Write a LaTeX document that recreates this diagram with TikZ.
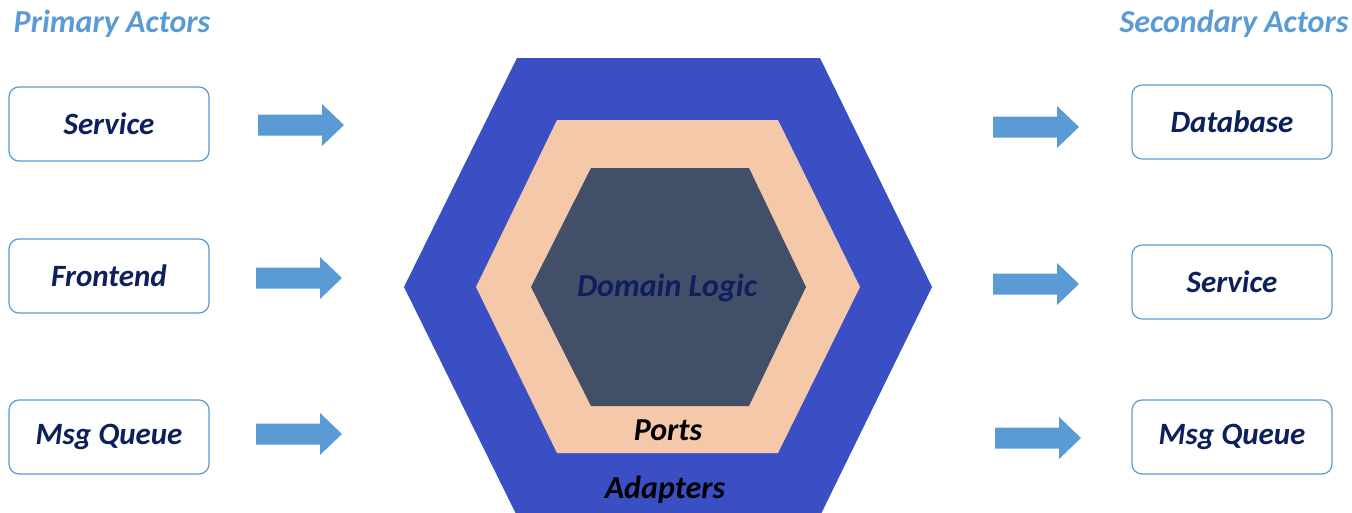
\documentclass[tikz,border=0pt]{standalone}
\usepackage{fontspec}
\setmainfont{Carlito}
\definecolor{outerblue}{HTML}{3A4FC4}
\definecolor{peach}{HTML}{F5C8AA}
\definecolor{slate}{HTML}{415068}
\definecolor{navy}{HTML}{0D1F5C}
\definecolor{lightblue}{HTML}{5B9BD5}
\begin{document}
\begin{tikzpicture}[x=1pt,y=-1pt,
  actor/.style={draw=lightblue,line width=1.2pt,rounded corners=10pt,fill=white,
    minimum width=200pt,minimum height=74pt,font=\fontsize{31}{34}\selectfont\bfseries\itshape,text=navy},
  title/.style={font=\fontsize{32}{35}\selectfont\bfseries\itshape,text=lightblue,anchor=center},
  lbl/.style={font=\fontsize{32}{35}\selectfont\bfseries\itshape}]
\useasboundingbox (0,0) rectangle (1352,512);
% hexagons
\fill[outerblue] (404,287) -- (517,58) -- (820,58) -- (932,287) -- (820,516) -- (517,516) -- cycle;
\fill[peach] (476,287) -- (557,120) -- (778,120) -- (860,287) -- (778,453) -- (557,453) -- cycle;
\fill[slate] (531,287) -- (591,168) -- (749,168) -- (806,287) -- (749,406) -- (591,406) -- cycle;
\node[lbl,text=navy] (domain) at (667,288) {Domain Logic};
\node[lbl,text=black] (ports) at (668,430) {Ports};
\node[lbl,text=black] (adapters) at (665,490) {Adapters};
% titles
\node[title] (primary) at (112,24) {Primary Actors};
\node[title] (secondary) at (1234,24) {Secondary Actors};
% left actors
\node[actor] (s1) at (109,124) {Service};
\node[actor] (f1) at (109,276) {Frontend};
\node[actor] (m1) at (109,437) {Msg Queue};
% right actors
\node[actor] (db) at (1232,122) {Database};
\node[actor] (s2) at (1232,282) {Service};
\node[actor] (m2) at (1232,437) {Msg Queue};
% arrows (block arrows)
\newcommand{\blockarrow}[3]{%
  \fill[lightblue] (#1,#3-10.5) -- (#2-22,#3-10.5) -- (#2-22,#3-21) -- (#2,#3) -- (#2-22,#3+21) -- (#2-22,#3+10.5) -- (#1,#3+10.5) -- cycle;}
\blockarrow{258}{344}{125}
\blockarrow{256}{342}{278}
\blockarrow{256}{342}{434}
\blockarrow{993}{1079}{127}
\blockarrow{993}{1079}{284}
\blockarrow{995}{1081}{438}
\end{tikzpicture}
\end{document}
